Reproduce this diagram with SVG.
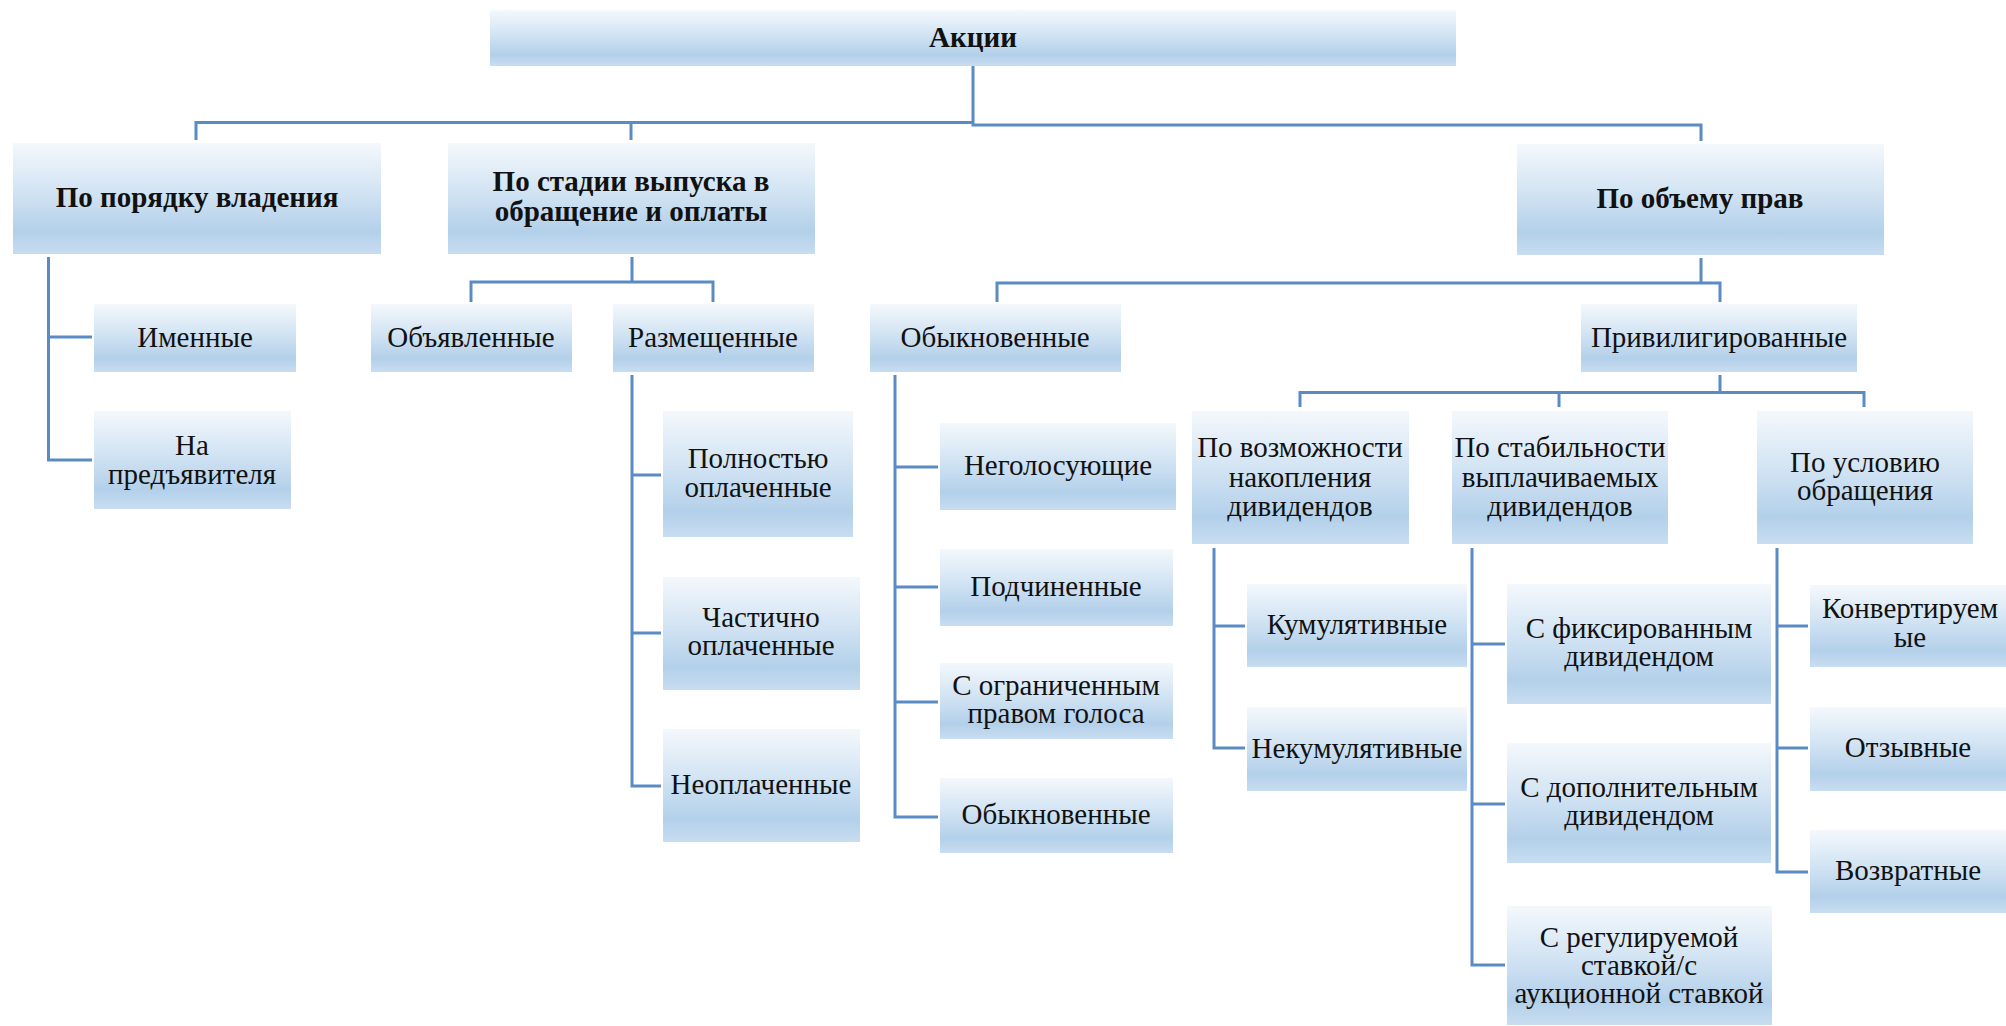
<svg xmlns="http://www.w3.org/2000/svg" width="2006" height="1026" viewBox="0 0 2006 1026">
<defs>
<linearGradient id="g" x1="0" y1="0" x2="0" y2="1">
<stop offset="0" stop-color="#f4f8fc"/>
<stop offset="0.45" stop-color="#d1e3f3"/>
<stop offset="0.8" stop-color="#b3d0ea"/>
<stop offset="1" stop-color="#c8ddf0"/>
</linearGradient>
</defs>
<rect width="2006" height="1026" fill="#fff"/>
<g id="connectors" fill="none" stroke="#5b8bc5" stroke-width="3">
<path d="M973,66 V125 H1701 V141"/>
<path d="M196,140 V122.5 H973"/>
<path d="M631,122.5 V140"/>
<path d="M48.5,257 V460 H92 M48.5,337 H92"/>
<path d="M632,257 V282 M471,302 V282 H713 V302"/>
<path d="M632,375 V786 H661 M632,475 H661 M632,633 H661"/>
<path d="M1701,258 V283 M997,302 V283 H1720 V302"/>
<path d="M895,375 V817 H938 M895,467 H938 M895,587 H938 M895,702 H938"/>
<path d="M1720,375 V392.5 M1300,407 V392.5 H1864 V407 M1559,392.5 V407"/>
<path d="M1214,548 V748 H1245 M1214,626 H1245"/>
<path d="M1472,548 V965 H1505 M1472,644 H1505 M1472,804 H1505"/>
<path d="M1777,548 V872 H1808 M1777,626 H1808 M1777,748 H1808"/>
</g>
<g id="n0"><rect fill="url(#g)" x="490" y="10" width="966" height="56"/><text font-family="Liberation Serif" font-size="29" font-weight="bold" text-anchor="middle" fill="#111" x="973" y="47">Акции</text></g>
<g id="n1"><rect fill="url(#g)" x="13" y="143" width="368" height="111"/><text font-family="Liberation Serif" font-size="29" font-weight="bold" text-anchor="middle" fill="#111" x="197" y="207">По порядку владения</text></g>
<g id="n2"><rect fill="url(#g)" x="448" y="143" width="367" height="111"/><text font-family="Liberation Serif" font-size="29" font-weight="bold" text-anchor="middle" fill="#111" x="631" y="191">По стадии выпуска в</text><text font-family="Liberation Serif" font-size="29" font-weight="bold" text-anchor="middle" fill="#111" x="631" y="221">обращение и оплаты</text></g>
<g id="n3"><rect fill="url(#g)" x="1517" y="144" width="367" height="111"/><text font-family="Liberation Serif" font-size="29" font-weight="bold" text-anchor="middle" fill="#111" x="1700" y="208">По объему прав</text></g>
<g id="n4"><rect fill="url(#g)" x="94" y="304" width="202" height="68"/><text font-family="Liberation Serif" font-size="29" text-anchor="middle" fill="#111" x="195" y="347">Именные</text></g>
<g id="n5"><rect fill="url(#g)" x="94" y="411" width="197" height="98"/><text font-family="Liberation Serif" font-size="29" text-anchor="middle" fill="#111" x="192" y="455">На</text><text font-family="Liberation Serif" font-size="29" text-anchor="middle" fill="#111" x="192" y="484">предъявителя</text></g>
<g id="n6"><rect fill="url(#g)" x="371" y="304" width="201" height="68"/><text font-family="Liberation Serif" font-size="29" text-anchor="middle" fill="#111" x="471" y="347">Объявленные</text></g>
<g id="n7"><rect fill="url(#g)" x="613" y="304" width="201" height="68"/><text font-family="Liberation Serif" font-size="29" text-anchor="middle" fill="#111" x="713" y="347">Размещенные</text></g>
<g id="n8"><rect fill="url(#g)" x="663" y="411" width="190" height="126"/><text font-family="Liberation Serif" font-size="29" text-anchor="middle" fill="#111" x="758" y="468">Полностью</text><text font-family="Liberation Serif" font-size="29" text-anchor="middle" fill="#111" x="758" y="497">оплаченные</text></g>
<g id="n9"><rect fill="url(#g)" x="663" y="577" width="197" height="113"/><text font-family="Liberation Serif" font-size="29" text-anchor="middle" fill="#111" x="761" y="627">Частично</text><text font-family="Liberation Serif" font-size="29" text-anchor="middle" fill="#111" x="761" y="655">оплаченные</text></g>
<g id="n10"><rect fill="url(#g)" x="663" y="729" width="197" height="113"/><text font-family="Liberation Serif" font-size="29" text-anchor="middle" fill="#111" x="761" y="794">Неоплаченные</text></g>
<g id="n11"><rect fill="url(#g)" x="870" y="304" width="251" height="68"/><text font-family="Liberation Serif" font-size="29" text-anchor="middle" fill="#111" x="995" y="347">Обыкновенные</text></g>
<g id="n12"><rect fill="url(#g)" x="1581" y="304" width="276" height="68"/><text font-family="Liberation Serif" font-size="29" text-anchor="middle" fill="#111" x="1719" y="347">Привилигированные</text></g>
<g id="n13"><rect fill="url(#g)" x="940" y="423" width="236" height="87"/><text font-family="Liberation Serif" font-size="29" text-anchor="middle" fill="#111" x="1058" y="475">Неголосующие</text></g>
<g id="n14"><rect fill="url(#g)" x="940" y="549" width="233" height="77"/><text font-family="Liberation Serif" font-size="29" text-anchor="middle" fill="#111" x="1056" y="596">Подчиненные</text></g>
<g id="n15"><rect fill="url(#g)" x="940" y="663" width="233" height="76"/><text font-family="Liberation Serif" font-size="29" text-anchor="middle" fill="#111" x="1056" y="695">С ограниченным</text><text font-family="Liberation Serif" font-size="29" text-anchor="middle" fill="#111" x="1056" y="723">правом голоса</text></g>
<g id="n16"><rect fill="url(#g)" x="940" y="778" width="233" height="75"/><text font-family="Liberation Serif" font-size="29" text-anchor="middle" fill="#111" x="1056" y="824">Обыкновенные</text></g>
<g id="n17"><rect fill="url(#g)" x="1192" y="411" width="217" height="133"/><text font-family="Liberation Serif" font-size="29" text-anchor="middle" fill="#111" x="1300" y="457">По возможности</text><text font-family="Liberation Serif" font-size="29" text-anchor="middle" fill="#111" x="1300" y="487">накопления</text><text font-family="Liberation Serif" font-size="29" text-anchor="middle" fill="#111" x="1300" y="516">дивидендов</text></g>
<g id="n18"><rect fill="url(#g)" x="1452" y="411" width="216" height="133"/><text font-family="Liberation Serif" font-size="29" text-anchor="middle" fill="#111" x="1560" y="457">По стабильности</text><text font-family="Liberation Serif" font-size="29" text-anchor="middle" fill="#111" x="1560" y="487">выплачиваемых</text><text font-family="Liberation Serif" font-size="29" text-anchor="middle" fill="#111" x="1560" y="516">дивидендов</text></g>
<g id="n19"><rect fill="url(#g)" x="1757" y="411" width="216" height="133"/><text font-family="Liberation Serif" font-size="29" text-anchor="middle" fill="#111" x="1865" y="472">По условию</text><text font-family="Liberation Serif" font-size="29" text-anchor="middle" fill="#111" x="1865" y="500">обращения</text></g>
<g id="n20"><rect fill="url(#g)" x="1247" y="584" width="220" height="83"/><text font-family="Liberation Serif" font-size="29" text-anchor="middle" fill="#111" x="1357" y="634">Кумулятивные</text></g>
<g id="n21"><rect fill="url(#g)" x="1247" y="707" width="220" height="84"/><text font-family="Liberation Serif" font-size="29" text-anchor="middle" fill="#111" x="1357" y="758">Некумулятивные</text></g>
<g id="n22"><rect fill="url(#g)" x="1507" y="584" width="264" height="120"/><text font-family="Liberation Serif" font-size="29" text-anchor="middle" fill="#111" x="1639" y="638">С фиксированным</text><text font-family="Liberation Serif" font-size="29" text-anchor="middle" fill="#111" x="1639" y="666">дивидендом</text></g>
<g id="n23"><rect fill="url(#g)" x="1507" y="743" width="264" height="120"/><text font-family="Liberation Serif" font-size="29" text-anchor="middle" fill="#111" x="1639" y="797">С дополнительным</text><text font-family="Liberation Serif" font-size="29" text-anchor="middle" fill="#111" x="1639" y="825">дивидендом</text></g>
<g id="n24"><rect fill="url(#g)" x="1507" y="906" width="265" height="119"/><text font-family="Liberation Serif" font-size="29" text-anchor="middle" fill="#111" x="1639" y="947">С регулируемой</text><text font-family="Liberation Serif" font-size="29" text-anchor="middle" fill="#111" x="1639" y="975">ставкой/с</text><text font-family="Liberation Serif" font-size="29" text-anchor="middle" fill="#111" x="1639" y="1003">аукционной ставкой</text></g>
<g id="n25"><rect fill="url(#g)" x="1810" y="585" width="196" height="82"/><text font-family="Liberation Serif" font-size="29" text-anchor="middle" fill="#111" x="1910" y="618">Конвертируем</text><text font-family="Liberation Serif" font-size="29" text-anchor="middle" fill="#111" x="1910" y="647">ые</text></g>
<g id="n26"><rect fill="url(#g)" x="1810" y="707" width="196" height="84"/><text font-family="Liberation Serif" font-size="29" text-anchor="middle" fill="#111" x="1908" y="757">Отзывные</text></g>
<g id="n27"><rect fill="url(#g)" x="1810" y="830" width="196" height="83"/><text font-family="Liberation Serif" font-size="29" text-anchor="middle" fill="#111" x="1908" y="880">Возвратные</text></g>
</svg>
